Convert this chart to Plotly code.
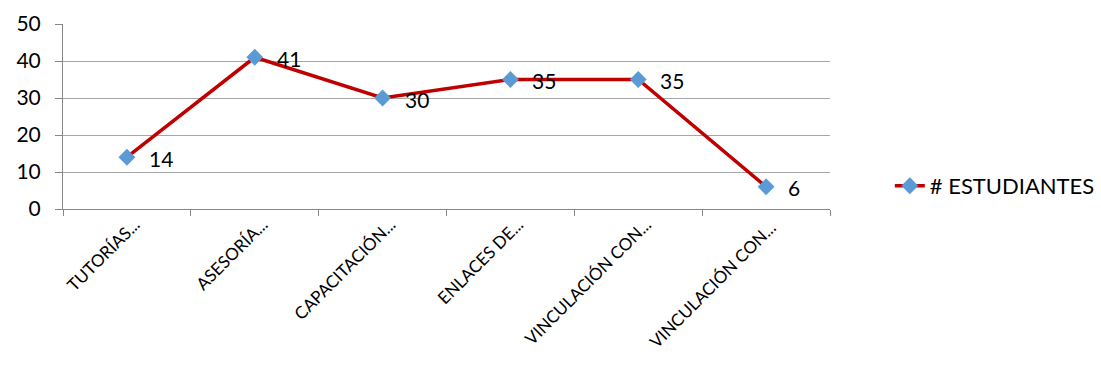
import plotly.graph_objects as go

categorias = ["TUTORÍAS...", "ASESORÍA...", "CAPACITACIÓN...", "ENLACES DE...",
              "VINCULACIÓN CON...", "VINCULACIÓN CON... "]
estudiantes = [14, 41, 30, 35, 35, 6]
serie = "# ESTUDIANTES"
y_ticks = [0, 10, 20, 30, 40, 50]

FONT = "Lato, 'Open Sans', sans-serif"

fig = go.Figure()
fig.add_trace(go.Scatter(
    x=categorias, y=estudiantes, mode="lines+markers", name=serie,
    line=dict(color="#c00000", width=3.5),
    marker=dict(symbol="diamond", size=13, color="#5b9bd5",
                line=dict(width=0)),
    cliponaxis=False,
))

for c, v in zip(categorias, estudiantes):
    fig.add_annotation(x=c, y=v, text=str(v), showarrow=False,
                       xanchor="left", yanchor="middle", xshift=20, yshift=-1,
                       font=dict(family=FONT, size=21, color="#000000"))

fig.update_layout(
    width=1101, height=372,
    margin=dict(l=63, r=271, t=24, b=163, autoexpand=False),
    paper_bgcolor="white", plot_bgcolor="white",
    font=dict(family=FONT, color="#000000"),
    showlegend=True,
    legend=dict(x=1.078, y=0.125, xanchor="left", yanchor="middle",
                font=dict(family=FONT, size=22, color="#000000"),
                bgcolor="rgba(0,0,0,0)"),
    xaxis=dict(
        type="category", range=[-0.5, 5.5], automargin=False,
        tickson="boundaries", ticks="outside", ticklen=6,
        tickcolor="#868686", tickwidth=1,
        showline=True, linecolor="#868686", linewidth=1,
        showgrid=False, tickangle=-45,
        ticklabelshift=8, ticklabelstandoff=-2,
        tickfont=dict(family=FONT, size=17, color="#000000"),
    ),
    yaxis=dict(
        range=[0, 50], tickvals=y_ticks, automargin=False,
        ticks="outside", ticklen=7, tickcolor="#868686",
        ticklabelstandoff=10,
        showline=True, linecolor="#868686", linewidth=1,
        showgrid=True, gridcolor="#a6a6a6", gridwidth=1,
        zeroline=False,
        tickfont=dict(family=FONT, size=21, color="#000000"),
    ),
)

fig.write_html("out.html")
